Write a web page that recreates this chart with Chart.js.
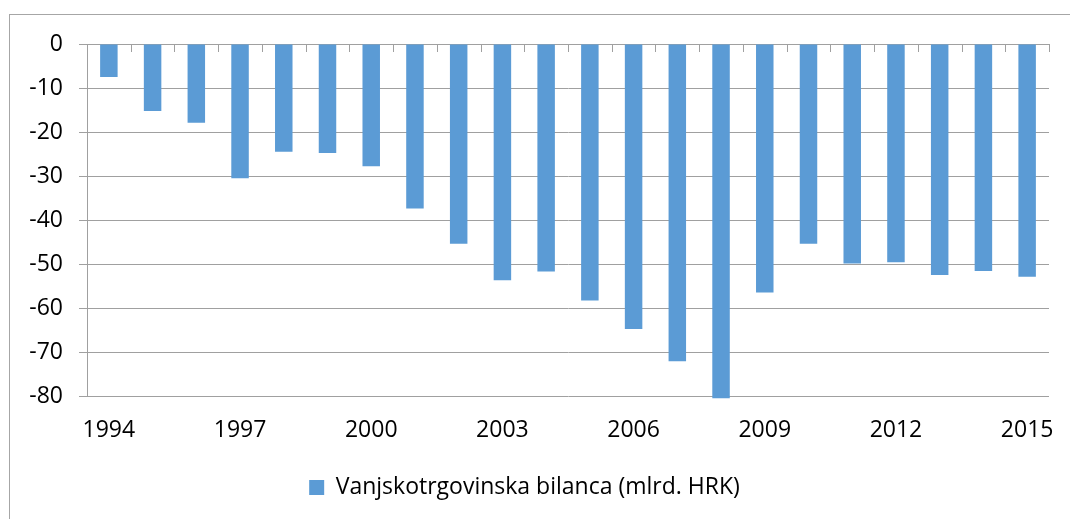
<!DOCTYPE html>
<html>
<head>
<meta charset="utf-8">
<script src="https://cdn.jsdelivr.net/npm/chart.js@4/dist/chart.umd.min.js"></script>
<style>
  html, body { margin: 0; padding: 0; background: #fff; }
  #wrap { position: relative; width: 1070px; height: 519px; overflow: hidden; }
  #frame { position: absolute; left: 9px; top: 14px; width: 1100px; height: 600px;
           border-left: 1px solid #a6a6a6; border-top: 1px solid #a6a6a6; }
  canvas { position: absolute; left: 0; top: 0; }
</style>
</head>
<body>
<div id="wrap">
  <div id="frame"></div>
  <canvas id="chart" width="1070" height="519"></canvas>
</div>
<script>
const years = ['1994','1995','1996','1997','1998','1999','2000','2001','2002','2003','2004',
               '2005','2006','2007','2008','2009','2010','2011','2012','2013','2014','2015'];
const balance = [-7.5, -15.2, -17.9, -30.5, -24.5, -24.8, -27.8, -37.4, -45.4, -53.7, -51.7,
                 -58.3, -64.8, -72.1, -80.5, -56.5, -45.4, -49.9, -49.6, -52.5, -51.6, -52.9];
const seriesName = 'Vanjskotrgovinska bilanca (mlrd. HRK)';
const yTicks = [0, -10, -20, -30, -40, -50, -60, -70, -80];

const FONT = "'Open Sans', 'Noto Sans', sans-serif";
const GRID = '#a0a0a0';

// small tick marks on the zero line at the category boundaries
const zeroTicks = {
  id: 'zeroTicks',
  afterDatasetsDraw(chart) {
    const x = chart.scales.x, y = chart.scales.y;
    const ctx = chart.ctx;
    const y0 = y.getPixelForValue(0);
    const half = (x.getPixelForValue(1) - x.getPixelForValue(0)) / 2;
    ctx.save();
    ctx.strokeStyle = GRID;
    ctx.lineWidth = 1;
    ctx.beginPath();
    for (let i = 0; i <= years.length; i++) {
      const px = Math.round(x.getPixelForValue(0) - half + i * half * 2) + 0.5;
      ctx.moveTo(px, y0);
      ctx.lineTo(px, y0 + 8);
    }
    ctx.stroke();
    ctx.restore();
  }
};

new Chart(document.getElementById('chart'), {
  type: 'bar',
  data: {
    labels: years,
    datasets: [{
      label: seriesName,
      data: balance,
      backgroundColor: '#5b9bd5',
      borderWidth: 0,
      categoryPercentage: 1,
      barPercentage: 0.4,
      clip: false
    }]
  },
  options: {
    responsive: false,
    animation: false,
    layout: { padding: { left: 0, right: 21, top: 44, bottom: 10 } },
    plugins: {
      tooltip: { enabled: false },
      legend: {
        position: 'bottom',
        labels: {
          font: { family: FONT, size: 23 },
          color: '#000',
          boxWidth: 15,
          boxHeight: 15,
          padding: 10
        }
      }
    },
    scales: {
      x: {
        grid: { display: false, drawTicks: false },
        border: { display: false },
        ticks: {
          autoSkip: false,
          maxRotation: 0,
          padding: 21,
          color: '#000',
          font: { family: FONT, size: 23 },
          callback: (v, i) => (i % 3 === 0 ? years[i] : '')
        },
        afterFit: s => { s.height = 70; s.paddingRight = 0; s.paddingLeft = 0; }
      },
      y: {
        min: -80,
        max: 0,
        afterBuildTicks: s => { s.ticks = yTicks.map(v => ({ value: v })); },
        grid: { color: GRID, lineWidth: 1, tickLength: 8 },
        border: { display: true, color: GRID },
        ticks: {
          padding: 16,
          color: '#000',
          font: { family: FONT, size: 23 }
        },
        afterFit: s => { s.width = 87; }
      }
    }
  },
  plugins: [zeroTicks]
});
</script>
</body>
</html>
